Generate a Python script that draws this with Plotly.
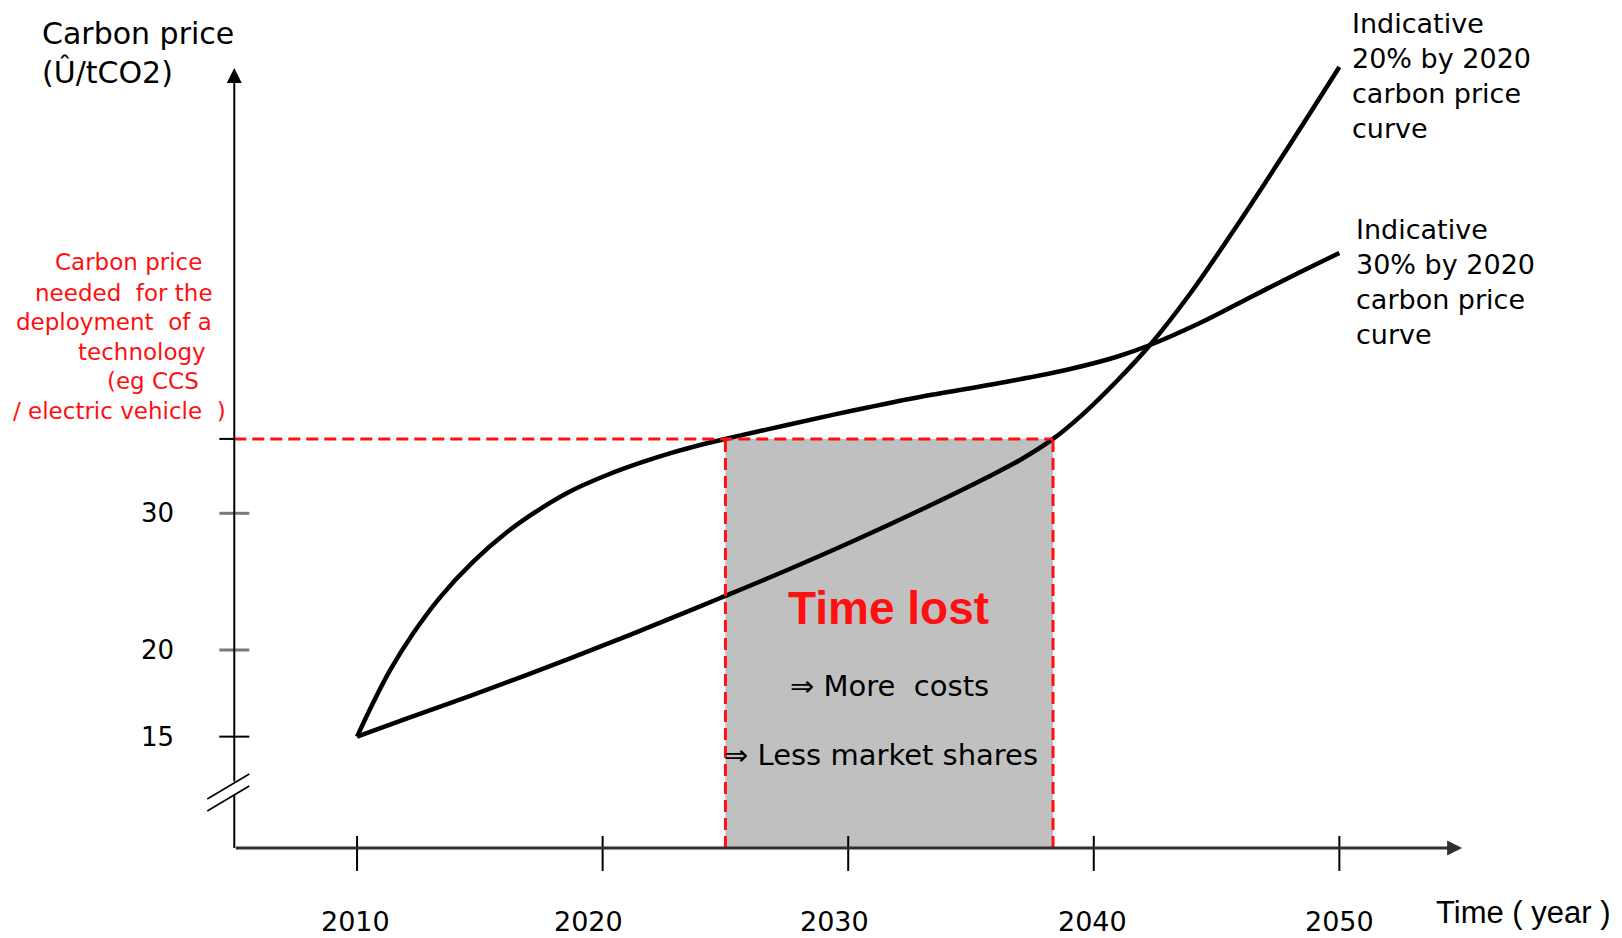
import plotly.graph_objects as go

# ---- data -------------------------------------------------------------
year_ticks = [2010, 2020, 2030, 2040, 2050]
year_tick_text = ["2010", "2020", "2030", "2040", "2050"]

# price axis is schematic (broken axis): tick positions in axis units
price_tick_pos = [13.66, 20, 30]
price_tick_text = ["15", "20", "30"]

# carbon price needed for deploying the technology
threshold_price = 35.44
# years where each curve reaches that price
lost_start = 2025.0
lost_end = 2038.34

curve_30_years = [2010.00, 2010.65, 2011.34, 2012.28, 2013.38, 2014.72, 2016.11,
                  2017.45, 2018.79, 2020.18, 2021.52, 2022.87, 2024.25, 2025.00,
                  2027.51, 2030.20, 2032.92, 2036.18, 2038.91, 2040.94, 2042.29,
                  2044.32, 2046.24, 2048.19, 2050.00]
curve_30_price = [13.66, 16.12, 18.50, 21.20, 23.85, 26.44, 28.63,
                  30.31, 31.70, 32.80, 33.68, 34.45, 35.12, 35.44,
                  36.46, 37.52, 38.51, 39.53, 40.50, 41.45, 42.31,
                  43.92, 45.68, 47.45, 49.04]

curve_20_years = [2010.00, 2012.04, 2014.72, 2017.45, 2020.18, 2022.87, 2024.79,
                  2027.52, 2030.21, 2032.94, 2035.67, 2037.00, 2038.34, 2039.56,
                  2040.94, 2042.29, 2043.92, 2045.55, 2047.58, 2050.00]
curve_20_price = [13.66, 14.99, 16.71, 18.54, 20.44, 22.38, 23.80,
                  25.85, 27.97, 30.24, 32.64, 33.90, 35.44, 37.26,
                  39.68, 42.31, 46.06, 50.30, 55.84, 62.65]

# ---- layout constants -------------------------------------------------
W, H = 1622, 938
X0, X1 = 1995.46, 2061.51
Y0, Y1 = -1.07, 67.55
PX_X = W / (X1 - X0)          # pixels per year
PX_Y = H / (Y1 - Y0)          # pixels per price unit

AXIS_X = 2005.0               # where the price axis stands
AXIS_Y = 5.52                 # where the time axis stands
X_END = 2055.0
Y_END = 62.57
GAP_LOW, GAP_HIGH = 9.39, 10.27   # axis break


def dx(p):
    return p / PX_X


def dy(p):
    return p / PX_Y


def paper(xp, yp):
    return xp / W, 1 - yp / H


RED = "#ff1010"
fig = go.Figure()

for xs, ys in ((curve_30_years, curve_30_price), (curve_20_years, curve_20_price)):
    fig.add_trace(go.Scatter(x=xs, y=ys, mode="lines",
                             line=dict(color="black", width=4.5, shape="spline", smoothing=1.0),
                             hoverinfo="skip"))

shapes = []
# shaded "time lost" window
shapes.append(dict(type="rect", xref="x", yref="y", x0=lost_start, x1=lost_end,
                   y0=AXIS_Y, y1=threshold_price, fillcolor="#c0c0c0",
                   line=dict(width=0), layer="below"))

# y-axis lower piece (below the break)
shapes.append(dict(type="line", xref="x", yref="y", x0=AXIS_X, x1=AXIS_X,
                   y0=AXIS_Y, y1=GAP_LOW, line=dict(color="black", width=2)))
# axis break marks
for yc in (GAP_HIGH, GAP_LOW):
    shapes.append(dict(type="line", xref="x", yref="y",
                       x0=AXIS_X - dx(27), y0=yc - dy(16),
                       x1=AXIS_X + dx(15), y1=yc + dy(9),
                       line=dict(color="black", width=1.6)))

# time ticks (crossing the axis)
for yr in year_ticks:
    shapes.append(dict(type="line", xref="x", yref="y", x0=yr, x1=yr,
                       y0=AXIS_Y + dy(12), y1=AXIS_Y - dy(23),
                       line=dict(color="black", width=2)))

# price ticks
tick_styles = [("black", 2), ("#7a7a7a", 3), ("#7a7a7a", 3)]
for pos, (col, wd) in zip(price_tick_pos, tick_styles):
    shapes.append(dict(type="line", xref="x", yref="y", x0=AXIS_X - dx(15), x1=AXIS_X + dx(15),
                       y0=pos, y1=pos, line=dict(color=col, width=wd)))
shapes.append(dict(type="line", xref="x", yref="y", x0=AXIS_X - dx(15), x1=AXIS_X,
                   y0=threshold_price, y1=threshold_price, line=dict(color="black", width=2)))

# dashed threshold and window edges
dash = dict(color=RED, width=3, dash="12px,6px")
shapes.append(dict(type="line", xref="x", yref="y", x0=AXIS_X, x1=lost_end,
                   y0=threshold_price, y1=threshold_price, line=dash))
for xv in (lost_start, lost_end):
    shapes.append(dict(type="line", xref="x", yref="y", x0=xv, x1=xv,
                       y0=AXIS_Y, y1=threshold_price, line=dash))

annotations = []
# axes with arrow heads
annotations.append(dict(x=AXIS_X, y=Y_END, ax=AXIS_X, ay=GAP_HIGH, xref="x", yref="y",
                        axref="x", ayref="y", text="", showarrow=True, arrowhead=2,
                        arrowsize=1.5, arrowwidth=2, arrowcolor="black"))
annotations.append(dict(x=X_END, y=AXIS_Y, ax=AXIS_X, ay=AXIS_Y, xref="x", yref="y",
                        axref="x", ayref="y", text="", showarrow=True, arrowhead=2,
                        arrowsize=1.0, arrowwidth=3, arrowcolor="#303030"))

FONT = "DejaVu Sans"
# time tick labels
label_nudge = [-2, -14, -14, -1, 0]
for yr, txt, nx in zip(year_ticks, year_tick_text, label_nudge):
    annotations.append(dict(x=yr, y=AXIS_Y, xref="x", yref="y", text=txt, showarrow=False,
                            xshift=nx, yshift=-74, xanchor="center", yanchor="middle",
                            borderpad=0,
                            font=dict(family=FONT, size=27, color="black")))
# price tick labels
for pos, txt in zip(price_tick_pos, price_tick_text):
    annotations.append(dict(x=AXIS_X, y=pos, xref="x", yref="y", text=txt, showarrow=False,
                            xshift=-58, xanchor="right", yanchor="middle",
                            font=dict(family=FONT, size=26, color="black")))


def note(xp, yp, text, size, color="black", family=FONT, xanchor="left", align="left"):
    px, py = paper(xp, yp)
    annotations.append(dict(x=px, y=py, xref="paper", yref="paper", text=text,
                            showarrow=False, xanchor=xanchor, yanchor="middle", align=align,
                            font=dict(family=family, size=size, color=color)))


# axis titles
note(40, 33, "Carbon price", 30)
note(40, 72, "(Û/tCO2)", 30)
note(1434, 912, "Time ( year )", 31, family="Liberation Sans")

# threshold explanation
red_lines = ["Carbon price", "needed  for the", "deployment  of a", "technology",
             "(eg CCS", "/ electric vehicle  )"]
red_xy = [(53, 262), (33, 293), (14, 322), (76, 352), (105, 381), (11, 411)]
for txt, (xp, yp) in zip(red_lines, red_xy):
    note(xp, yp, txt, 23, color=RED)

# curve labels
note(1350, 76, "Indicative<br>20% by 2020<br>carbon price<br>curve", 27)
note(1354, 282, "Indicative<br>30% by 2020<br>carbon price<br>curve", 27)

# window text
note(888, 608, "<b>Time lost</b>", 46, color=RED, family="Liberation Sans", xanchor="center")
note(889, 686, "\u21d2 More  costs", 29, xanchor="center")
note(881, 755, "\u21d2 Less market shares", 29, xanchor="center")

fig.update_layout(
    width=W, height=H,
    margin=dict(l=0, r=0, t=0, b=0),
    paper_bgcolor="white", plot_bgcolor="white",
    showlegend=False,
    xaxis=dict(range=[X0, X1], visible=False, fixedrange=True),
    yaxis=dict(range=[Y0, Y1], visible=False, fixedrange=True),
    shapes=shapes,
    annotations=annotations,
)

fig.write_html("out.html")
